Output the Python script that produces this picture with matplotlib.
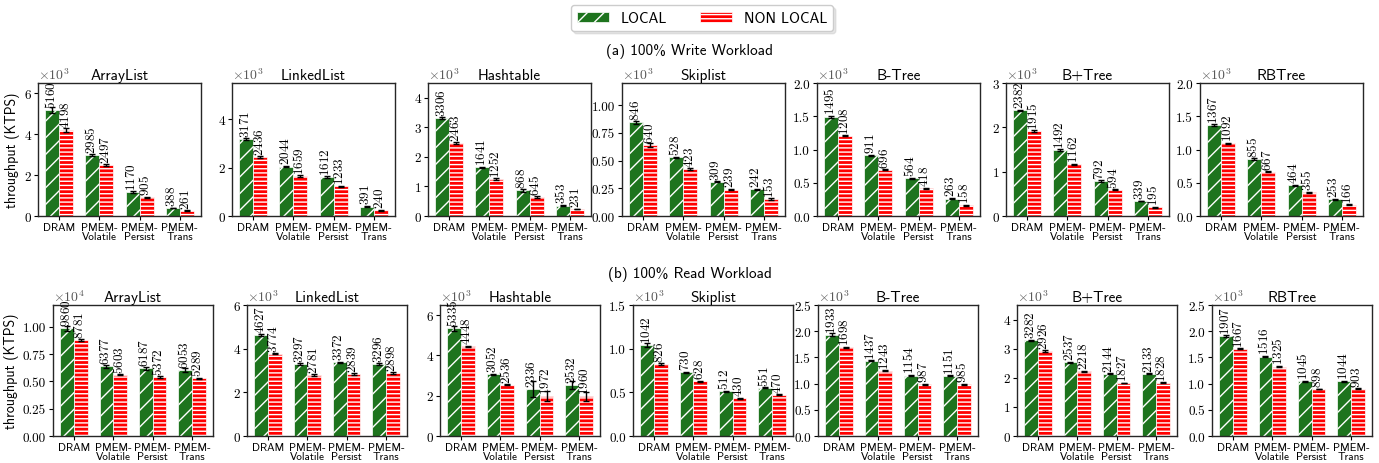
import numpy as np
import matplotlib
matplotlib.use("Agg")
import matplotlib.pyplot as plt
from matplotlib.patches import Patch
from matplotlib.ticker import MultipleLocator, FuncFormatter

plt.rcParams["font.family"] = ["cmss10", "DejaVu Sans"]
plt.rcParams["mathtext.fontset"] = "cm"
plt.rcParams["axes.unicode_minus"] = False
plt.rcParams["hatch.linewidth"] = 1.0

STRUCTS = ["ArrayList", "LinkedList", "Hashtable", "Skiplist", "B-Tree", "B+Tree", "RBTree"]
MODES = ["DRAM", "PMEM-\nVolatile", "PMEM-\nPersist", "PMEM-\nTrans"]

# (a) 100% write workload, KTPS
write_local = [[5160, 2985, 1170, 388], [3171, 2044, 1612, 391], [3306, 1641, 868, 353],
               [846, 528, 309, 242], [1495, 911, 564, 263], [2382, 1492, 792, 339],
               [1367, 855, 464, 253]]
write_remote = [[4198, 2497, 905, 261], [2436, 1659, 1233, 240], [2463, 1252, 645, 231],
                [640, 423, 239, 153], [1208, 696, 418, 158], [1915, 1162, 594, 195],
                [1092, 667, 355, 166]]
write_local_err = [[150, 40, 30, 10], [40, 30, 30, 10], [40, 20, 40, 10],
                   [12, 6, 4, 4], [15, 10, 6, 4], [20, 15, 20, 10], [12, 10, 6, 5]]
write_remote_err = [[80, 40, 20, 10], [40, 30, 20, 20], [40, 30, 30, 10],
                    [20, 6, 4, 12], [12, 8, 8, 6], [20, 15, 10, 8], [10, 6, 5, 8]]

# (b) 100% read workload, KTPS
read_local = [[9860, 6377, 6187, 6053], [4627, 3297, 3372, 3296], [5335, 3052, 2336, 2532],
              [1042, 730, 512, 551], [1933, 1437, 1154, 1151], [3282, 2537, 2144, 2133],
              [1907, 1516, 1045, 1044]]
read_remote = [[8781, 5603, 5372, 5289], [3774, 2781, 2839, 2898], [4448, 2536, 1972, 1960],
               [826, 628, 430, 470], [1698, 1243, 987, 985], [2926, 2218, 1827, 1828],
               [1667, 1325, 898, 903]]
read_local_err = [[250, 120, 100, 150], [60, 30, 40, 30], [120, 40, 410, 200],
                  [22, 6, 6, 6], [25, 10, 8, 8], [30, 20, 15, 15], [15, 10, 8, 8]]
read_remote_err = [[60, 40, 80, 60], [40, 40, 40, 40], [40, 20, 250, 200],
                   [15, 4, 6, 6], [10, 8, 8, 8], [30, 20, 10, 10], [10, 10, 8, 8]]

write_scale = [3, 3, 3, 3, 3, 3, 3]
read_scale = [4, 3, 3, 3, 3, 3, 3]
write_ylim = [6.5, 5.5, 4.5, 1.2, 2.0, 3.0, 2.0]
read_ylim = [1.2, 6, 6.5, 1.5, 2.5, 4.5, 2.5]
write_step = [2, 2, 1, 0.25, 0.5, 1, 0.5]
read_step = [0.25, 2, 2, 0.5, 0.5, 1, 0.5]
write_dec = [0, 0, 0, 2, 1, 0, 1]
read_dec = [2, 0, 0, 1, 1, 0, 1]

GREEN = "#1e741e"
RED = "#ff0000"
W, H = 1379, 464

fig = plt.figure(figsize=(W / 100, H / 100), dpi=100)

rows = [
    dict(loc=write_local, rem=write_remote, le=write_local_err, re=write_remote_err,
         sc=write_scale, yl=write_ylim, st=write_step, dc=write_dec,
         lefts=[38, 232, 428, 622, 817, 1006, 1200], width=163, top=84, bot=217),
    dict(loc=read_local, rem=read_remote, le=read_local_err, re=read_remote_err,
         sc=read_scale, yl=read_ylim, st=read_step, dc=read_dec,
         lefts=[53, 247, 440, 633, 818, 1017, 1212], width=160, top=306, bot=437),
]

bw = 0.35
x = np.arange(len(MODES))
ekw = dict(elinewidth=1.0, capthick=1.0, ecolor="black")

for r, row in enumerate(rows):
    for i, name in enumerate(STRUCTS):
        left = row["lefts"][i] / W
        bottom = 1 - row["bot"] / H
        height = (row["bot"] - row["top"]) / H
        ax = fig.add_axes([left, bottom, row["width"] / W, height])
        div = 10 ** row["sc"][i]
        loc = np.array(row["loc"][i]) / div
        rem = np.array(row["rem"][i]) / div
        ax.bar(x - bw / 2, loc, bw, color=GREEN, edgecolor="white", linewidth=0.5,
               hatch="//", yerr=np.array(row["le"][i]) / div, capsize=2, error_kw=ekw)
        ax.bar(x + bw / 2, rem, bw, color=RED, edgecolor="white", linewidth=0.5,
               hatch="----", yerr=np.array(row["re"][i]) / div, capsize=2, error_kw=ekw)
        for xs, vals, raw in ((x - bw / 2, loc, row["loc"][i]), (x + bw / 2, rem, row["rem"][i])):
            for xi, v, t in zip(xs, vals, raw):
                ax.annotate(r"$\mathsf{%d}$" % t, (xi, v), xytext=(1.8, 1.5),
                            textcoords="offset points", rotation=90,
                            rotation_mode="anchor", ha="left", va="baseline",
                            fontsize=9.5, annotation_clip=False, zorder=5)
        ax.set_ylim(0, row["yl"][i])
        ax.yaxis.set_major_locator(MultipleLocator(row["st"][i]))
        d = row["dc"][i]
        ax.yaxis.set_major_formatter(FuncFormatter(lambda v, p, d=d: f"{v:.{d}f}"))
        ax.tick_params(axis="y", labelsize=9.5, labelfontfamily="cmr10", length=3, pad=2)
        ax.set_xticks(x)
        ax.set_xticklabels(MODES, fontsize=8, linespacing=0.9)
        ax.tick_params(axis="x", length=3, pad=1.5)
        ax.set_title(name, fontsize=11, pad=3)
        ax.text(0.0, 1.005, r"$\times10^{%d}$" % row["sc"][i], transform=ax.transAxes,
                fontsize=10, color="0.35", ha="left", va="bottom")
        for sp in ax.spines.values():
            sp.set_linewidth(1.0)
            sp.set_color("0.15")
        if i == 0:
            ax.set_ylabel("throughput (KTPS)", fontsize=10, labelpad=3)

fig.text(0.5, 1 - 52 / H, "(a) 100% Write Workload", ha="center", va="center", fontsize=11)
fig.text(0.5, 1 - 275 / H, "(b) 100% Read Workload", ha="center", va="center", fontsize=11)

handles = [Patch(facecolor=GREEN, edgecolor="white", hatch="//", linewidth=0.5),
           Patch(facecolor=RED, edgecolor="white", hatch="----", linewidth=0.5)]
fig.legend(handles, ["LOCAL", "NON LOCAL"], loc="center",
           bbox_to_anchor=(702 / W, 1 - 19 / H), ncol=2, fontsize=10.7,
           fancybox=True, shadow={"color": "0.8"}, handlelength=2.15,
           columnspacing=2.2, handletextpad=0.8, borderpad=0.4)

fig.savefig("out.png", dpi=100)
